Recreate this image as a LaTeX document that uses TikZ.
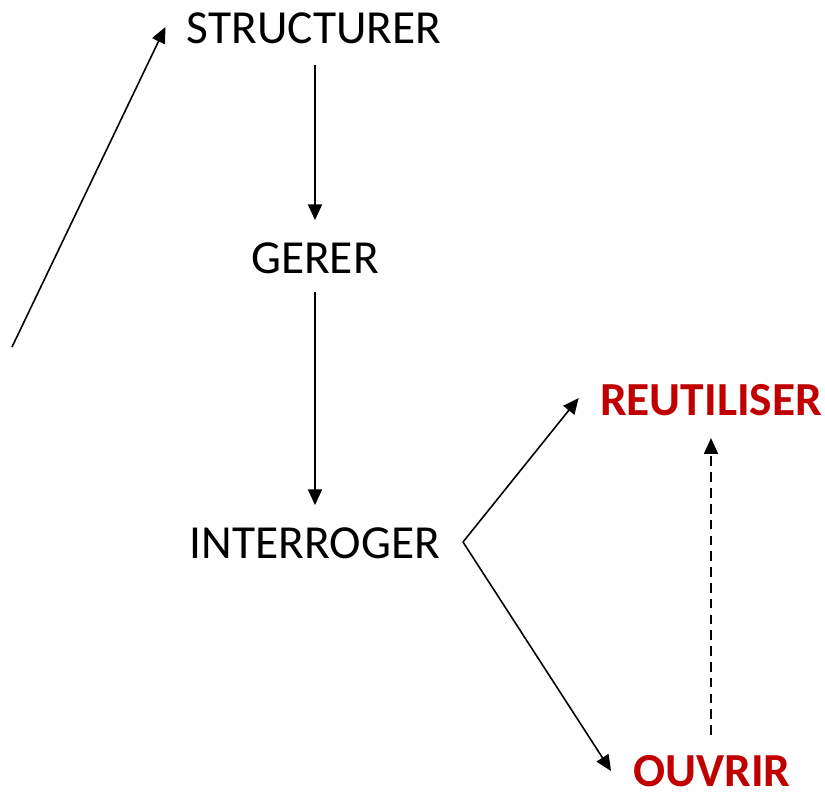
\documentclass[tikz,border=0pt]{standalone}
\usepackage{fontspec}
\setmainfont{Carlito}
\usetikzlibrary{calc,arrows.meta}
\definecolor{darkred}{RGB}{192,0,0}

\begin{document}
\begin{tikzpicture}[x=0.02cm, y=-0.02cm,
  label/.style={inner sep=0pt, font=\fontsize{27}{32}\selectfont},
  keyword/.style={label, text=darkred, font=\fontsize{27}{32}\selectfont\bfseries},
  link/.style={line width=0.9pt, -{Triangle[length=9pt,width=8pt]}}]
\useasboundingbox (0,0) rectangle (825,792);
\node[label] (struct) at (314,28) {STRUCTURER};
\node[label] (gerer) at (315,258) {GERER};
\node[label] (interr) at (315,543) {INTERROGER};
\node[keyword] (reut) at (711,400) {REUTILISER};
\node[keyword] (ouvr) at (712,771) {OUVRIR};
\coordinate (start) at (12,347);
\coordinate (fork) at (463,542);
\draw[link] (start) -- ($(struct.west)+(-21,-1)$);
\draw[link] ($(struct.south)+(1,21)$) -- ($(gerer.north)+(0,-22)$);
\draw[link] ($(gerer.south)+(0,18)$) -- ($(interr.north)+(0,-22)$);
\draw[link] (fork) -- ($(reut.west)+(-21,-2)$);
\draw[link] (fork) -- ($(ouvr.west)+(-22,0)$);
\draw[link, dash pattern=on 5.5pt off 3.5pt] ($(ouvr.north)+(-1,-20)$) -- ($(reut.south)+(0,22)$);
\end{tikzpicture}
\end{document}
